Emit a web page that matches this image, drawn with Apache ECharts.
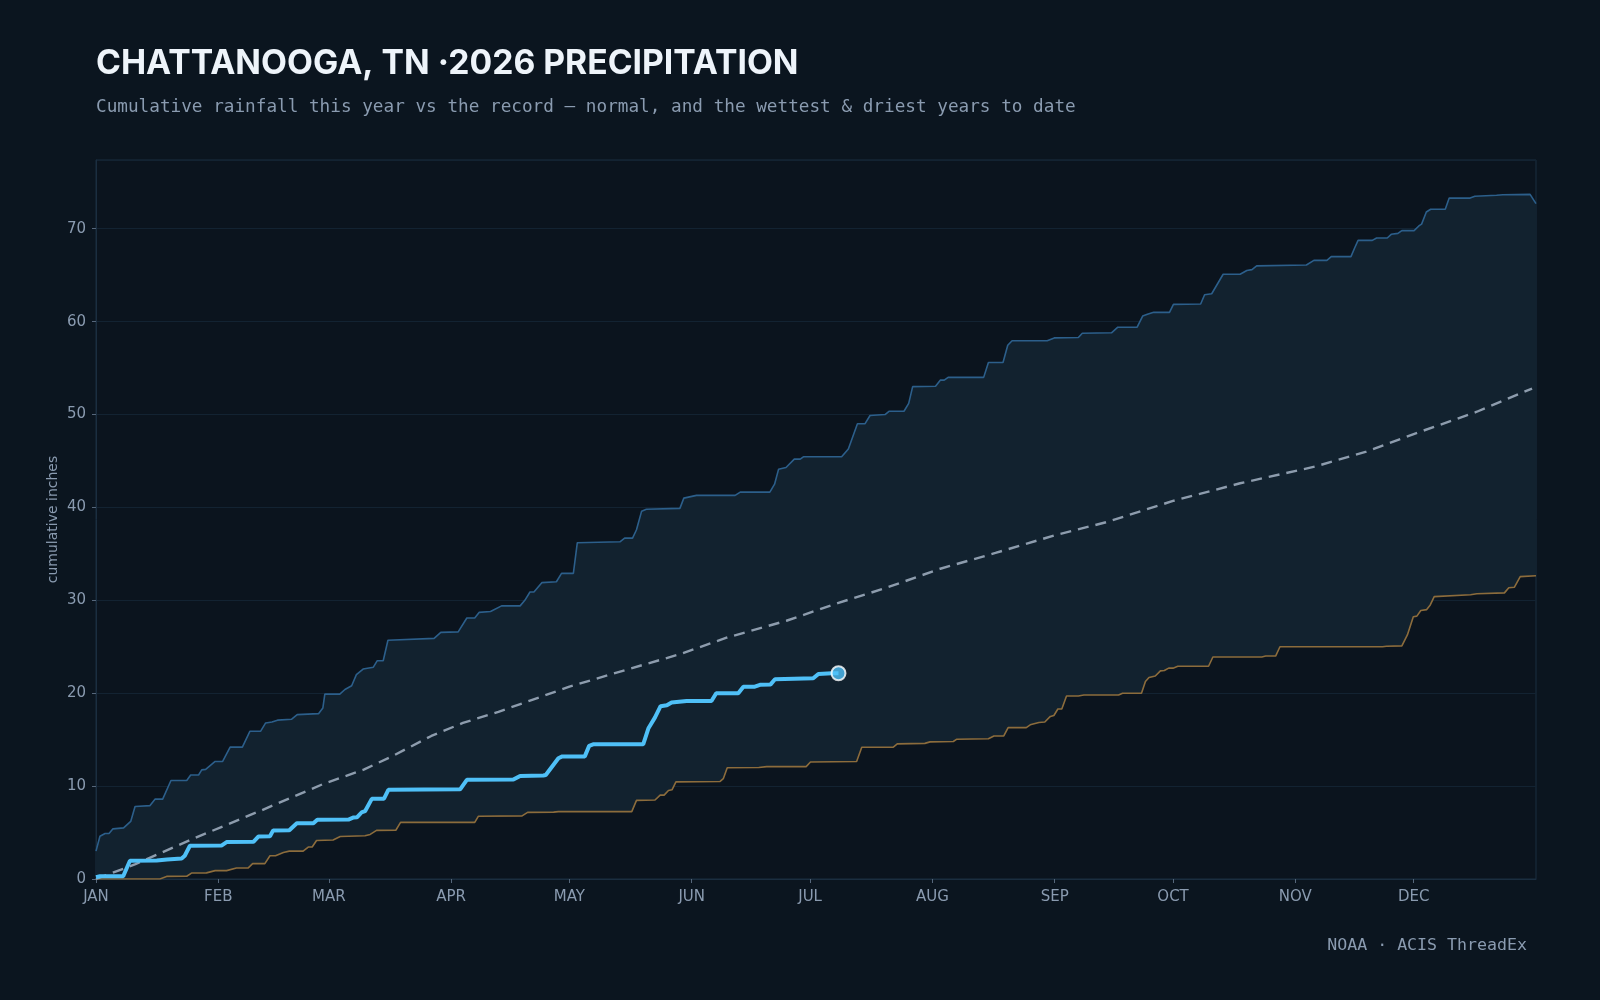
<!DOCTYPE html>
<html>
<head>
<meta charset="utf-8">
<title>Chattanooga, TN 2026 precipitation</title>
<script src="https://cdn.jsdelivr.net/npm/echarts@6/dist/echarts.min.js"></script>
<style>
  html, body { margin: 0; padding: 0; background: #0b151f; }
  #chart { width: 1600px; height: 1000px; }
</style>
</head>
<body>
<div id="chart"></div>
<script>
// day of year (0 = Jan 1) -> cumulative inches
const monthNames = ["JAN", "FEB", "MAR", "APR", "MAY", "JUN", "JUL", "AUG", "SEP", "OCT", "NOV", "DEC"];
const monthStarts = [0, 31, 59, 90, 120, 151, 181, 212, 243, 273, 304, 334];

const wettest = [
  [0, 3.0], [1, 4.6], [2.3, 4.9], [3.3, 4.9], [4.3, 5.4], [7, 5.5], [8.8, 6.2], [9.9, 7.8],
  [13.7, 7.9], [15, 8.6], [16.9, 8.6], [19, 10.6], [23, 10.6], [24, 11.2], [26, 11.2],
  [26.8, 11.75], [27.8, 11.8], [30.2, 12.65], [32.1, 12.65], [34, 14.2], [37.1, 14.2],
  [39, 15.9], [41.7, 15.9], [43, 16.8], [44.6, 16.9], [46, 17.1], [49.6, 17.2], [51, 17.7],
  [56.4, 17.8], [57.5, 18.4], [58, 19.9], [61.8, 19.9], [63.1, 20.4], [64.8, 20.8], [66, 22.0],
  [67.7, 22.6], [70.3, 22.8], [71.3, 23.5], [72.8, 23.5], [74, 25.7], [85.7, 25.9],
  [87.4, 26.55], [91.8, 26.6], [94, 28.1], [96, 28.1], [97.1, 28.7], [100, 28.8],
  [102.8, 29.4], [107.5, 29.4], [108.7, 30.0], [110, 30.9], [111, 30.9], [113, 31.9],
  [116.7, 32.0], [118, 32.9], [121, 32.9], [122, 36.2], [132.8, 36.3], [134, 36.7],
  [136, 36.7], [137, 37.6], [138.3, 39.6], [139.5, 39.8], [148, 39.9], [149, 41.0],
  [152.2, 41.3], [162, 41.3], [163.3, 41.65], [170.8, 41.65], [172, 42.5], [173, 44.1],
  [174.9, 44.3], [177, 45.2], [178.5, 45.2], [179.3, 45.45], [189, 45.45], [190.7, 46.3],
  [193, 49.0], [194.9, 49.0], [196.2, 49.9], [200, 50.0], [201, 50.35], [204.8, 50.35],
  [206, 51.2], [207, 53.0], [212.8, 53.05], [214, 53.7], [215, 53.7], [216, 54.0], [225, 54.0],
  [226.2, 55.6], [229.9, 55.6], [231.1, 57.45], [232.2, 57.95], [241.1, 57.95], [242.9, 58.25],
  [249, 58.3], [250, 58.75], [257.4, 58.8], [259, 59.4], [263.9, 59.4], [265.3, 60.6],
  [266.5, 60.8], [268.1, 61.0], [272.1, 61.0], [273.1, 61.86], [280, 61.9], [281, 62.9],
  [282.8, 63.0], [285.7, 65.1], [290, 65.1], [291.7, 65.5], [293, 65.6], [294.2, 66.0],
  [306.8, 66.1], [308.7, 66.6], [312, 66.6], [313.1, 67.0], [318.1, 67.0], [319, 67.9],
  [319.9, 68.75], [323.5, 68.75], [324.6, 69.0], [327.3, 69.0], [328.3, 69.4], [330, 69.5],
  [331, 69.8], [334.1, 69.8], [335.3, 70.3], [336, 70.5], [337.2, 71.8], [338.3, 72.1],
  [342, 72.1], [343, 73.3], [348.3, 73.3], [349.5, 73.5], [355, 73.6], [356.6, 73.66],
  [363.5, 73.7], [365, 72.7]
];

const driest = [
  [0, 0], [16.2, 0], [17.9, 0.28], [23, 0.3], [24.2, 0.64], [28, 0.66], [30.2, 0.9], [33.1, 0.9],
  [35.6, 1.18], [38.6, 1.2], [39.7, 1.65], [42.8, 1.65], [44.1, 2.5], [45.5, 2.5], [47.5, 2.86],
  [49, 3.0], [52.5, 3.0], [53.8, 3.44], [54.8, 3.44], [55.9, 4.15], [60.1, 4.2], [61.9, 4.58],
  [68.2, 4.65], [69.5, 4.8], [71.1, 5.23], [76, 5.25], [77.2, 6.1], [96, 6.1], [96.9, 6.75],
  [108, 6.8], [109.4, 7.17], [116, 7.2], [117.2, 7.25], [135.8, 7.25], [137, 8.46], [141.7, 8.5],
  [143, 9.03], [144, 9.03], [145.1, 9.53], [146, 9.6], [147, 10.46], [158.2, 10.5], [159, 10.8],
  [160, 11.97], [168, 12.0], [170, 12.1], [180, 12.1], [181.1, 12.6], [192.8, 12.65],
  [194.1, 14.19], [202.1, 14.2], [203.1, 14.55], [210.1, 14.6], [211.4, 14.76], [217.3, 14.8],
  [218.2, 15.05], [226.2, 15.1], [227.6, 15.4], [230.1, 15.4], [231.2, 16.3], [235.8, 16.3],
  [236.8, 16.6], [239, 16.85], [240.5, 16.9], [241.9, 17.5], [242.8, 17.6], [243.8, 18.3],
  [244.8, 18.3], [246, 19.7], [249, 19.7], [250.4, 19.8], [259.2, 19.8], [260.2, 20.0],
  [265, 20.0], [266, 21.25], [266.9, 21.7], [268.5, 21.85], [269.8, 22.4], [270.8, 22.45],
  [271.9, 22.7], [273, 22.7], [274.2, 22.9], [282, 22.9], [283.1, 23.9], [295.5, 23.9],
  [296.5, 24.0], [299, 24.0], [300.1, 25.0], [326.1, 25.0], [327.1, 25.05], [331, 25.1],
  [332.4, 26.27], [333.9, 28.24], [334.8, 28.3], [335.8, 28.9], [337.3, 29.0], [338.2, 29.5],
  [339.2, 30.4], [348.4, 30.6], [350, 30.7], [357, 30.8], [358.1, 31.35], [359.5, 31.4],
  [361, 32.55], [365, 32.65]
];

const normal = [
  [0, 0], [10, 1.6], [25, 4.4], [42, 7.4], [58, 10.3], [68, 11.8], [75, 13.2], [85, 15.4],
  [93, 16.8], [102, 18.0], [110, 19.2], [120, 20.7], [135, 22.6], [148, 24.2], [160, 26.0],
  [175, 27.8], [188, 29.7], [200, 31.3], [214, 33.4], [228, 35.1], [243, 37.0], [256, 38.4],
  [273, 40.7], [290, 42.6], [309, 44.4], [322, 46.0], [334, 47.9], [350, 50.3], [364, 52.8]
];

const current = [
  [0, 0.2], [1, 0.3], [6.9, 0.3], [8.6, 1.97], [15.4, 2.0], [18, 2.1], [21.7, 2.2], [22.5, 2.5],
  [23.8, 3.58], [31.8, 3.6], [33.1, 3.97], [39.9, 4.0], [41.2, 4.58], [44.1, 4.6], [44.9, 5.23],
  [49, 5.25], [50.9, 6.0], [55.1, 6.0], [56.1, 6.38], [64, 6.4], [65.3, 6.63], [66.2, 6.65],
  [67.3, 7.16], [68.2, 7.3], [69.9, 8.63], [73, 8.65], [74.1, 9.6], [92.3, 9.65], [94, 10.68],
  [105.8, 10.7], [107.5, 11.1], [113.4, 11.15], [114, 11.2], [117.2, 13.0], [118.2, 13.2],
  [123.9, 13.2], [125, 14.33], [126, 14.5], [138.7, 14.5], [140, 16.2], [141.7, 17.4],
  [143.1, 18.6], [144.7, 18.7], [145.9, 19.0], [149.7, 19.17], [156, 19.17], [157.2, 20.0],
  [162.8, 20.0], [164.1, 20.7], [167, 20.7], [168.3, 20.9], [171, 20.95], [172.1, 21.5],
  [181.8, 21.6], [183.1, 22.07], [186.5, 22.15], [188.2, 22.15]
];

const BG = "#0b151f";
const TEXT = "#8a9bb0";
const GRIDLINE = "#132332";
const BORDER = "#1b2e40";

const chart = echarts.init(document.getElementById("chart"));

chart.setOption({
  animation: false,
  backgroundColor: BG,
  textStyle: { fontFamily: "DejaVu Sans" },
  graphic: [
    {
      type: "text",
      left: 96,
      top: 47,
      style: {
        text: "CHATTANOOGA, TN ·2026 PRECIPITATION",
        fill: "#eef4fa",
        font: "bold 33.7px Inter",
      },
    },
    {
      type: "text",
      left: 96,
      top: 98,
      style: {
        text: "Cumulative rainfall this year vs the record — normal, and the wettest & driest years to date",
        fill: TEXT,
        font: "17.7px 'DejaVu Sans Mono'",
      },
    },
    {
      type: "text",
      right: 73,
      top: 937,
      style: {
        text: "NOAA · ACIS ThreadEx",
        fill: TEXT,
        font: "16.6px 'DejaVu Sans Mono'",
      },
    },
  ],
  grid: {
    left: 96,
    right: 64,
    top: 160,
    bottom: 121,
    show: true,
    backgroundColor: "#0b141e",
    borderColor: BORDER,
    borderWidth: 1,
  },
  xAxis: {
    type: "value",
    min: 0,
    max: 365,
    axisLine: { show: true, lineStyle: { color: BORDER } },
    axisTick: {
      show: true,
      customValues: monthStarts,
      length: 4,
      lineStyle: { color: "#56677b" },
    },
    axisLabel: {
      customValues: monthStarts,
      formatter: (v) => monthNames[monthStarts.indexOf(v)],
      color: TEXT,
      fontSize: 15,
      margin: 11,
    },
    splitLine: { show: false },
  },
  yAxis: {
    type: "value",
    min: 0,
    max: 77.4,
    interval: 10,
    name: "cumulative inches",
    nameLocation: "middle",
    nameGap: 36,
    nameMoveOverlap: false,
    nameTextStyle: { color: TEXT, fontSize: 14 },
    axisLine: { show: true, lineStyle: { color: BORDER } },
    axisTick: { show: true, length: 4, lineStyle: { color: "#56677b" } },
    axisLabel: { color: TEXT, fontSize: 15, margin: 10, showMaxLabel: false },
    splitLine: { lineStyle: { color: GRIDLINE, width: 1 } },
  },
  series: [
    {
      // record band between driest and wettest
      type: "custom",
      silent: true,
      z: 1,
      clip: true,
      data: [[0, 0]],
      renderItem: function (params, api) {
        const pts = wettest.map((p) => api.coord(p));
        for (let i = driest.length - 1; i >= 0; i--) pts.push(api.coord(driest[i]));
        return {
          type: "polygon",
          shape: { points: pts },
          style: { fill: "#12222f" },
        };
      },
    },
    {
      name: "Wettest",
      type: "line",
      data: wettest,
      symbol: "none",
      z: 3,
      lineStyle: { color: "#2c5f8b", width: 1.6 },
    },
    {
      name: "Driest",
      type: "line",
      data: driest,
      symbol: "none",
      z: 3,
      lineStyle: { color: "#8c6c3c", width: 1.6 },
    },
    {
      name: "Normal",
      type: "line",
      data: normal,
      symbol: "none",
      z: 4,
      lineStyle: { color: "#8d9cad", width: 2.4, type: [11, 7] },
    },
    {
      name: "2026",
      type: "line",
      data: current,
      symbol: "none",
      z: 5,
      lineStyle: { color: "#4fc0f7", width: 4 },
    },
    {
      name: "Today",
      type: "scatter",
      data: [current[current.length - 1]],
      symbol: "circle",
      symbolSize: 14,
      z: 6,
      itemStyle: { color: "#4fc0f7", borderColor: "#ffffff", borderWidth: 2 },
    },
  ],
});

window.addEventListener("resize", function () {
  chart.resize();
});
</script>
</body>
</html>
